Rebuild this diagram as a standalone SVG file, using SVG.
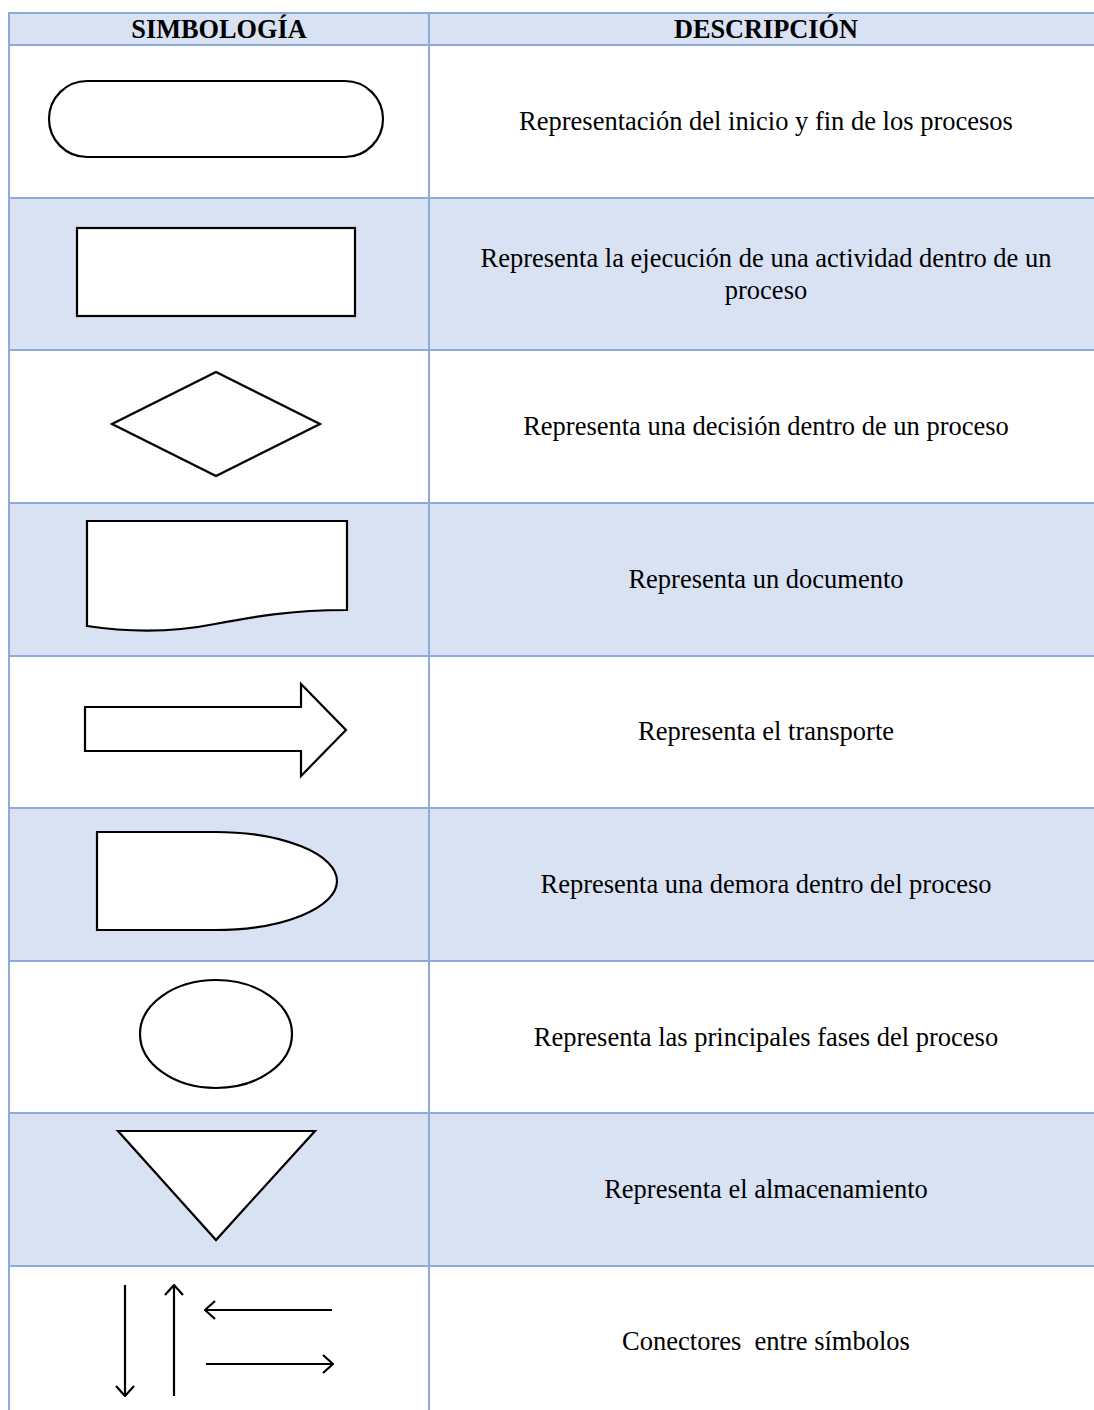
<svg xmlns="http://www.w3.org/2000/svg" width="1094" height="1410" viewBox="0 0 1094 1410">
  <style>
    .band { fill: #d9e2f3; }
    .grid { stroke: #8eaadb; stroke-width: 2; fill: none; }
    .shape { fill: #ffffff; stroke: #000000; stroke-width: 2.2; stroke-linejoin: miter; }
    .line { fill: none; stroke: #000000; stroke-width: 2.2; }
    .head { font-family: "Liberation Serif", "Times New Roman", serif; font-weight: bold; font-size: 26.3px; text-anchor: middle; fill: #000; }
    .desc { font-family: "Liberation Serif", "Times New Roman", serif; font-size: 26.5px; text-anchor: middle; fill: #000; }
  </style>
  <defs>
    <marker id="openHead" viewBox="0 0 12 20" refX="11" refY="10" markerWidth="12" markerHeight="20" markerUnits="userSpaceOnUse" orient="auto">
      <path d="M1,1 L11,10 L1,19" fill="none" stroke="#000" stroke-width="2.2"/>
    </marker>
  </defs>

  <rect width="1094" height="1410" fill="#ffffff"/>

  <!-- shaded rows -->
  <g id="bands">
    <rect class="band" x="9" y="13" width="1085" height="32"/>
    <rect class="band" x="9" y="198" width="1085" height="152"/>
    <rect class="band" x="9" y="503" width="1085" height="153"/>
    <rect class="band" x="9" y="808" width="1085" height="153"/>
    <rect class="band" x="9" y="1113" width="1085" height="153"/>
  </g>

  <!-- table rules -->
  <g id="grid" class="grid">
    <line x1="9" y1="13" x2="1094" y2="13"/>
    <line x1="9" y1="45" x2="1094" y2="45"/>
    <line x1="9" y1="198" x2="1094" y2="198"/>
    <line x1="9" y1="350" x2="1094" y2="350"/>
    <line x1="9" y1="503" x2="1094" y2="503"/>
    <line x1="9" y1="656" x2="1094" y2="656"/>
    <line x1="9" y1="808" x2="1094" y2="808"/>
    <line x1="9" y1="961" x2="1094" y2="961"/>
    <line x1="9" y1="1113" x2="1094" y2="1113"/>
    <line x1="9" y1="1266" x2="1094" y2="1266"/>
    <line x1="9" y1="12" x2="9" y2="1410"/>
    <line x1="429" y1="12" x2="429" y2="1410"/>
  </g>

  <g id="header">
    <text class="head" x="219" y="38">SIMBOLOGÍA</text>
    <text class="head" x="766" y="38">DESCRIPCIÓN</text>
  </g>

  <g id="terminator">
    <rect class="shape" x="49" y="81" width="334" height="76" rx="38" ry="38"/>
    <text class="desc" x="766" y="130">Representación del inicio y fin de los procesos</text>
  </g>

  <g id="process">
    <rect class="shape" x="77" y="228" width="278" height="88"/>
    <text class="desc" x="766" y="267">Representa la ejecución de una actividad dentro de un</text>
    <text class="desc" x="766" y="299">proceso</text>
  </g>

  <g id="decision">
    <polygon class="shape" points="112,424 216,372 320,424 216,476"/>
    <text class="desc" x="766" y="435">Representa una decisión dentro de un proceso</text>
  </g>

  <g id="document">
    <path class="shape" d="M87,521 H347 V610 C290,610 252,617 215,624 C180,631 140,634 87,626 Z"/>
    <text class="desc" x="766" y="588">Representa un documento</text>
  </g>

  <g id="transport">
    <polygon class="shape" points="85,707 301,707 301,684 346,730 301,776 301,751 85,751"/>
    <text class="desc" x="766" y="740">Representa el transporte</text>
  </g>

  <g id="delay">
    <path class="shape" d="M97,832 H215 A122,49 0 0 1 215,930 H97 Z"/>
    <text class="desc" x="766" y="893">Representa una demora dentro del proceso</text>
  </g>

  <g id="phase">
    <ellipse class="shape" cx="216" cy="1034" rx="76" ry="54"/>
    <text class="desc" x="766" y="1046">Representa las principales fases del proceso</text>
  </g>

  <g id="storage">
    <polygon class="shape" points="118,1131 315,1131 216,1240"/>
    <text class="desc" x="766" y="1198">Representa el almacenamiento</text>
  </g>

  <g id="connectors">
    <line class="line" x1="125" y1="1285" x2="125" y2="1396" marker-end="url(#openHead)"/>
    <line class="line" x1="174" y1="1396" x2="174" y2="1285" marker-end="url(#openHead)"/>
    <line class="line" x1="332" y1="1310" x2="205" y2="1310" marker-end="url(#openHead)"/>
    <line class="line" x1="206" y1="1364" x2="333" y2="1364" marker-end="url(#openHead)"/>
    <text class="desc" x="766" y="1350" xml:space="preserve">Conectores  entre símbolos</text>
  </g>
</svg>
